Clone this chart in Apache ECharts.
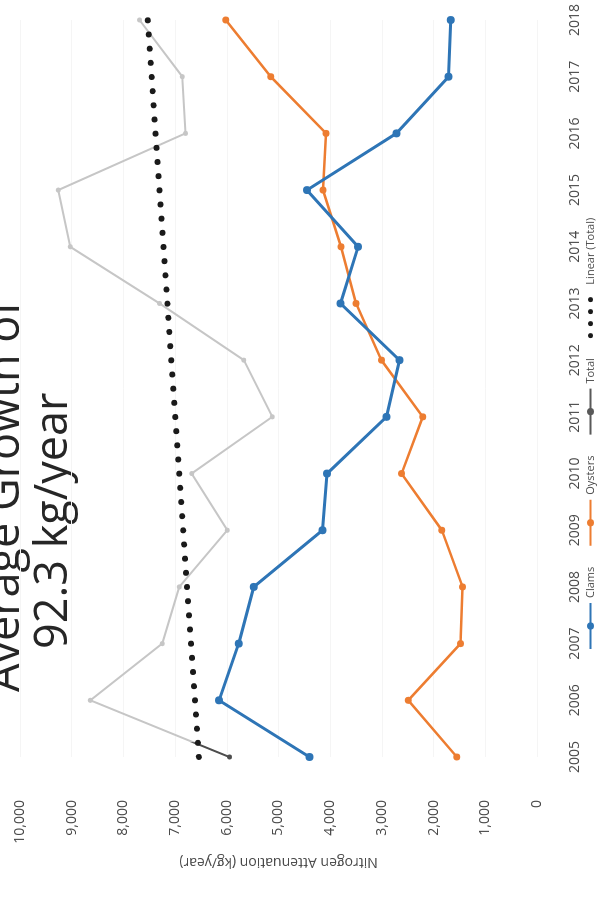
<!DOCTYPE html>
<html>
<head>
<meta charset="utf-8">
<script src="https://cdn.jsdelivr.net/npm/echarts@6/dist/echarts.min.js"></script>
<style>
  html, body { margin: 0; padding: 0; width: 600px; height: 897px; overflow: hidden; background: #fff; }
  /* the chart is laid out landscape and turned a quarter turn to stand upright on the page */
  #chart { position: absolute; left: 0; top: 897px; width: 897px; height: 600px;
           transform-origin: 0 0; transform: rotate(-90deg); }
</style>
</head>
<body>
<div id="chart"></div>
<script>
// Nitrogen attenuation by year (kg/year)
const years = ['2005', '2006', '2007', '2008', '2009', '2010', '2011',
               '2012', '2013', '2014', '2015', '2016', '2017', '2018'];
const clams   = [4400, 6150, 5770, 5480, 4150, 4060, 2910, 2660, 3800, 3460, 4450, 2720, 1710, 1670];
const oysters = [1550, 2490, 1480, 1440, 1840, 2620, 2210, 3010, 3500, 3790, 4140, 4080, 5150, 6020];
const total   = [5950, 8640, 7250, 6920, 5990, 6680, 5120, 5670, 7300, 9030, 9260, 6800, 6860, 7690];
// linear trend of the total, end points
const linearTotal = [6540, null, null, null, null, null, null, null, null, null, null, null, null, 7530];

const titleLines = ['Average Growth of', '92.3 kg/year'];
const axisName = 'Nitrogen Attenuation (kg/year)';

const FONT = '"Open Sans", sans-serif';
const LABEL = '#4a4a4a';
const chart = echarts.init(document.getElementById('chart'), null, { renderer: 'canvas' });

chart.setOption({
  backgroundColor: '#ffffff',
  animation: false,
  grid: { left: 140, right: 20, top: 20, bottom: 63, containLabel: false },
  xAxis: {
    type: 'category',
    data: years,
    boundaryGap: false,
    axisLine: { show: false },
    axisTick: { show: false },
    splitLine: { show: false },
    axisLabel: { margin: 31, color: LABEL, fontSize: 14, fontFamily: FONT }
  },
  yAxis: {
    type: 'value',
    min: 0, max: 10000, interval: 1000,
    name: axisName,
    nameLocation: 'middle',
    nameRotate: 90,
    nameGap: 97,
    nameTextStyle: { color: LABEL, fontSize: 14, fontFamily: FONT },
    axisLine: { show: false },
    axisTick: { show: false },
    splitLine: { show: true, lineStyle: { color: '#f5f5f5', width: 1 } },
    axisLabel: {
      margin: 43, color: LABEL, fontSize: 14, fontFamily: FONT,
      formatter: v => v.toLocaleString('en-US')
    }
  },
  legend: {
    left: 242, top: 580,
    itemWidth: 46, itemHeight: 9, itemGap: 20,
    textStyle: { color: LABEL, fontSize: 11, fontFamily: FONT },
    data: [
      { name: 'Clams' },
      { name: 'Oysters' },
      { name: 'Total', itemStyle: { color: '#595959' }, lineStyle: { color: '#595959' } },
      { name: 'Linear (Total)', itemStyle: { opacity: 0 },
        lineStyle: { width: 5, color: '#1a1a1a', type: [0.001, 12], cap: 'round' } }
    ]
  },
  graphic: [
    { type: 'text', left: 205, top: -16, silent: true,
      style: { text: titleLines[0], fontSize: 45, fontFamily: FONT, fill: '#262626' } },
    { type: 'text', left: 248, top: 32, silent: true,
      style: { text: titleLines[1], fontSize: 45, fontFamily: FONT, fill: '#262626' } }
  ],
  series: [
    {
      name: 'Total', type: 'line', z: 2,
      data: total.map((v, i) => i === 0 ? { value: v, itemStyle: { color: '#4d4d4d' } } : v),
      symbol: 'circle', symbolSize: 5,
      lineStyle: {
        width: 2,
        color: { type: 'linear', x: 0, y: 0, x2: 897, y2: 0, global: true,
                 colorStops: [ { offset: 0, color: '#4d4d4d' }, { offset: 0.172, color: '#4d4d4d' },
                               { offset: 0.173, color: '#c6c6c6' }, { offset: 1, color: '#c6c6c6' } ] }
      },
      itemStyle: { color: '#c6c6c6' },
      emphasis: { disabled: true }
    },
    {
      name: 'Clams', type: 'line', data: clams, z: 4,
      symbol: 'circle', symbolSize: 8,
      lineStyle: { width: 3, color: '#2e75b6' },
      itemStyle: { color: '#2e75b6' },
      emphasis: { disabled: true }
    },
    {
      name: 'Oysters', type: 'line', data: oysters, z: 3,
      symbol: 'circle', symbolSize: 7,
      lineStyle: { width: 2.5, color: '#ed7d31' },
      itemStyle: { color: '#ed7d31' },
      emphasis: { disabled: true }
    },
    {
      name: 'Linear (Total)', type: 'line', data: linearTotal, z: 5,
      connectNulls: true, symbol: 'none',
      lineStyle: { width: 6, color: '#1a1a1a', type: [0.001, 14.2], cap: 'round' },
      itemStyle: { color: '#1a1a1a' },
      emphasis: { disabled: true }
    }
  ]
});
</script>
</body>
</html>
